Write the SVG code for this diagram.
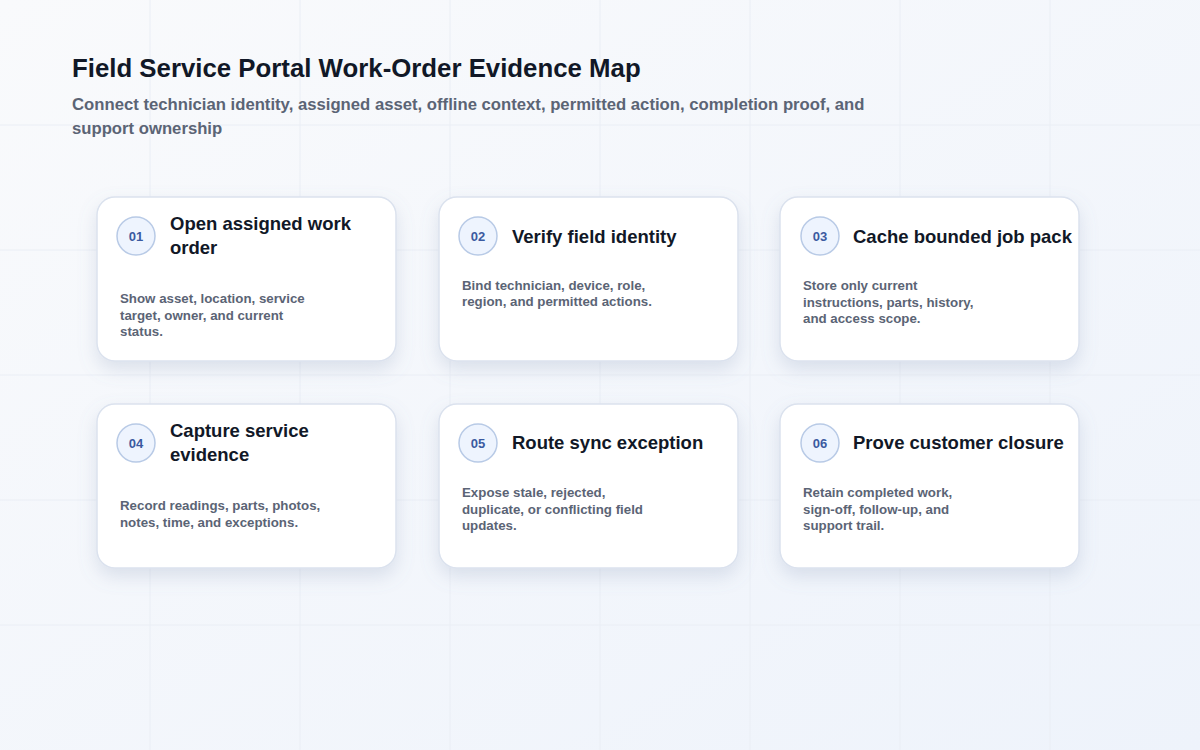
<svg xmlns="http://www.w3.org/2000/svg" width="1200" height="750" viewBox="0 0 1200 750">
<defs>
<linearGradient id="bg" x1="0" y1="0" x2="1" y2="1">
<stop offset="0" stop-color="#f9fafc"/>
<stop offset="1" stop-color="#eef3fb"/>
</linearGradient>
<filter id="sh" x="-20%" y="-20%" width="140%" height="150%">
<feDropShadow dx="0" dy="8" stdDeviation="9" flood-color="#7c8db0" flood-opacity="0.22"/>
</filter>
<style>
.card{fill:#ffffff;stroke:#dbe2ee;stroke-width:1.5;filter:url(#sh)}
.badge{fill:#eef4fe;stroke:#b8cae6;stroke-width:1.5}
.num{font-family:"Liberation Sans",Arial,sans-serif;font-size:13px;font-weight:700;fill:#3b5aa0;text-anchor:middle}
.ttl{font-family:"Liberation Sans",Arial,sans-serif;font-size:18.5px;font-weight:700;fill:#111827}
.desc{font-family:"Liberation Sans",Arial,sans-serif;font-size:13.3px;font-weight:700;fill:#5b6475}
.grid{stroke:#eaeef5;stroke-width:1}
</style>
</defs>
<rect width="1200" height="750" fill="url(#bg)"/>
<g class="grid">
<line x1="150" y1="0" x2="150" y2="750"/><line x1="300" y1="0" x2="300" y2="750"/><line x1="450" y1="0" x2="450" y2="750"/><line x1="600" y1="0" x2="600" y2="750"/><line x1="750" y1="0" x2="750" y2="750"/><line x1="900" y1="0" x2="900" y2="750"/><line x1="1050" y1="0" x2="1050" y2="750"/>
<line x1="0" y1="125" x2="1200" y2="125"/><line x1="0" y1="250" x2="1200" y2="250"/><line x1="0" y1="375" x2="1200" y2="375"/><line x1="0" y1="500" x2="1200" y2="500"/><line x1="0" y1="625" x2="1200" y2="625"/>
</g>
<g id="header">
<text x="72" y="77" font-family="Liberation Sans,Arial,sans-serif" font-size="25.8" font-weight="700" fill="#111827">Field Service Portal Work-Order Evidence Map</text>
<text font-family="Liberation Sans,Arial,sans-serif" font-size="16.7" font-weight="700" fill="#5b6475"><tspan x="72" y="110">Connect technician identity, assigned asset, offline context, permitted action, completion proof, and</tspan><tspan x="72" y="134">support ownership</tspan></text>
</g>
<g id="connectors"></g>
<g id="node-01">
<rect class="card" x="97" y="197" width="299" height="164" rx="18"/>
<circle class="badge" cx="136" cy="236" r="19"/>
<text class="num" x="136" y="241">01</text>
<text class="ttl"><tspan x="170" y="230">Open assigned work</tspan><tspan x="170" y="254">order</tspan></text>
<text class="desc"><tspan x="120" y="303">Show asset, location, service</tspan><tspan x="120" y="320">target, owner, and current</tspan><tspan x="120" y="336">status.</tspan></text>
</g>
<g id="node-02">
<rect class="card" x="439" y="197" width="299" height="164" rx="18"/>
<circle class="badge" cx="478" cy="236" r="19"/>
<text class="num" x="478" y="241">02</text>
<text class="ttl" x="512" y="243">Verify field identity</text>
<text class="desc"><tspan x="462" y="290">Bind technician, device, role,</tspan><tspan x="462" y="306">region, and permitted actions.</tspan></text>
</g>
<g id="node-03">
<rect class="card" x="780" y="197" width="299" height="164" rx="18"/>
<circle class="badge" cx="820" cy="236" r="19"/>
<text class="num" x="820" y="241">03</text>
<text class="ttl" x="853" y="243">Cache bounded job pack</text>
<text class="desc"><tspan x="803" y="290">Store only current</tspan><tspan x="803" y="307">instructions, parts, history,</tspan><tspan x="803" y="323">and access scope.</tspan></text>
</g>
<g id="node-04">
<rect class="card" x="97" y="404" width="299" height="164" rx="18"/>
<circle class="badge" cx="136" cy="443" r="19"/>
<text class="num" x="136" y="448">04</text>
<text class="ttl"><tspan x="170" y="437">Capture service</tspan><tspan x="170" y="461">evidence</tspan></text>
<text class="desc"><tspan x="120" y="510">Record readings, parts, photos,</tspan><tspan x="120" y="527">notes, time, and exceptions.</tspan></text>
</g>
<g id="node-05">
<rect class="card" x="439" y="404" width="299" height="164" rx="18"/>
<circle class="badge" cx="478" cy="443" r="19"/>
<text class="num" x="478" y="448">05</text>
<text class="ttl" x="512" y="449">Route sync exception</text>
<text class="desc"><tspan x="462" y="497">Expose stale, rejected,</tspan><tspan x="462" y="514">duplicate, or conflicting field</tspan><tspan x="462" y="530">updates.</tspan></text>
</g>
<g id="node-06">
<rect class="card" x="780" y="404" width="299" height="164" rx="18"/>
<circle class="badge" cx="820" cy="443" r="19"/>
<text class="num" x="820" y="448">06</text>
<text class="ttl" x="853" y="449">Prove customer closure</text>
<text class="desc"><tspan x="803" y="497">Retain completed work,</tspan><tspan x="803" y="514">sign-off, follow-up, and</tspan><tspan x="803" y="530">support trail.</tspan></text>
</g>
</svg>
